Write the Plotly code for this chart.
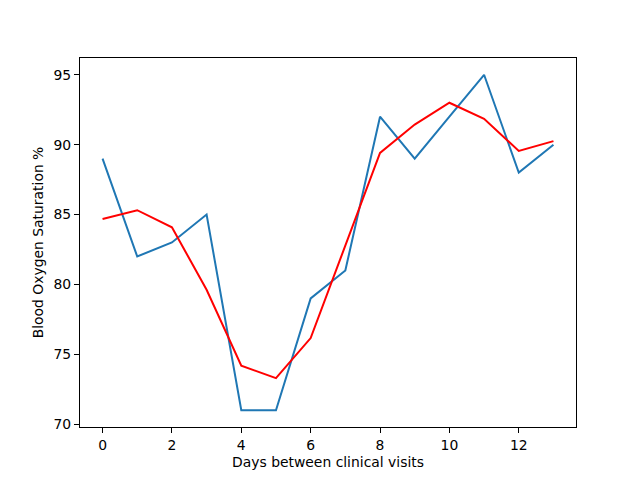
import plotly.graph_objects as go

days = list(range(14))
spo2 = [89, 82, 83, 85, 71, 71, 79, 81, 92, 89, 92, 95, 88, 90]
smoothed = [84.68, 85.31, 84.09, 79.62, 74.18, 73.3, 76.16, 82.75, 89.41, 91.44, 93.0, 91.85, 89.55, 90.25]

fig = go.Figure()
fig.add_trace(go.Scatter(x=days, y=spo2, mode="lines", line=dict(color="#1f77b4", width=2), showlegend=False))
fig.add_trace(go.Scatter(x=days, y=smoothed, mode="lines", line=dict(color="red", width=2), showlegend=False))

axis_common = dict(showgrid=False, zeroline=False, showline=True, linecolor="black", linewidth=1,
                   mirror=True, ticks="outside", ticklen=5, tickwidth=1, tickcolor="black",
                   tickfont=dict(family="DejaVu Sans", size=13.9, color="black"))
fig.update_xaxes(range=[-0.65, 13.65], tickvals=[0, 2, 4, 6, 8, 10, 12],
                 title=dict(text="Days between clinical visits", font=dict(family="DejaVu Sans", size=13.9, color="black"), standoff=5),
                 **axis_common)
fig.update_yaxes(range=[69.8, 96.2], tickvals=[70, 75, 80, 85, 90, 95],
                 title=dict(text="Blood Oxygen Saturation %", font=dict(family="DejaVu Sans", size=13.9, color="black"), standoff=6),
                 **axis_common)
fig.update_layout(width=640, height=480, margin=dict(l=72, r=72, t=50, b=61, autoexpand=False),
                  paper_bgcolor="white", plot_bgcolor="white")
fig.write_html("out.html")
